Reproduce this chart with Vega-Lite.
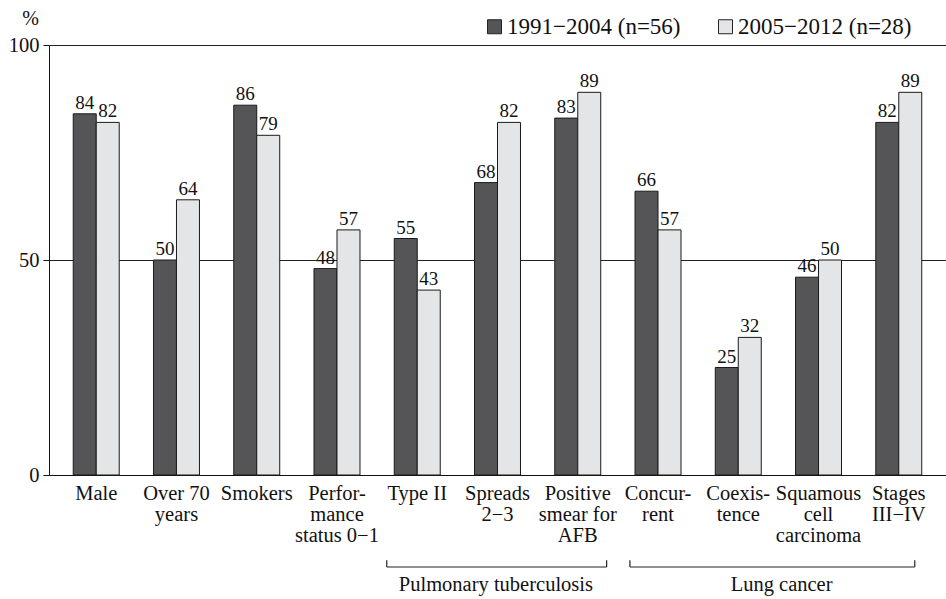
{
  "$schema": "https://vega.github.io/schema/vega-lite/v6.json",
  "width": 897,
  "height": 430,
  "autosize": {"type": "none"},
  "padding": {"left": 49, "top": 45, "right": 0, "bottom": 124},
  "background": "white",
  "config": {
    "view": {"stroke": null},
    "font": "Liberation Serif",
    "text": {"font": "Liberation Serif", "color": "#111"}
  },
  "datasets": {
    "bars": [
      {"category": "Male", "period": "1991−2004 (n=56)", "value": 84},
      {"category": "Male", "period": "2005−2012 (n=28)", "value": 82},
      {"category": "Over 70\nyears", "period": "1991−2004 (n=56)", "value": 50},
      {"category": "Over 70\nyears", "period": "2005−2012 (n=28)", "value": 64},
      {"category": "Smokers", "period": "1991−2004 (n=56)", "value": 86},
      {"category": "Smokers", "period": "2005−2012 (n=28)", "value": 79},
      {"category": "Perfor-\nmance\nstatus 0−1", "period": "1991−2004 (n=56)", "value": 48},
      {"category": "Perfor-\nmance\nstatus 0−1", "period": "2005−2012 (n=28)", "value": 57},
      {"category": "Type II", "period": "1991−2004 (n=56)", "value": 55},
      {"category": "Type II", "period": "2005−2012 (n=28)", "value": 43},
      {"category": "Spreads\n2−3", "period": "1991−2004 (n=56)", "value": 68},
      {"category": "Spreads\n2−3", "period": "2005−2012 (n=28)", "value": 82},
      {"category": "Positive\nsmear for\nAFB", "period": "1991−2004 (n=56)", "value": 83},
      {"category": "Positive\nsmear for\nAFB", "period": "2005−2012 (n=28)", "value": 89},
      {"category": "Concur-\nrent", "period": "1991−2004 (n=56)", "value": 66},
      {"category": "Concur-\nrent", "period": "2005−2012 (n=28)", "value": 57},
      {"category": "Coexis-\ntence", "period": "1991−2004 (n=56)", "value": 25},
      {"category": "Coexis-\ntence", "period": "2005−2012 (n=28)", "value": 32},
      {"category": "Squamous\ncell\ncarcinoma", "period": "1991−2004 (n=56)", "value": 46},
      {"category": "Squamous\ncell\ncarcinoma", "period": "2005−2012 (n=28)", "value": 50},
      {"category": "Stages\nIII−IV", "period": "1991−2004 (n=56)", "value": 82},
      {"category": "Stages\nIII−IV", "period": "2005−2012 (n=28)", "value": 89}
    ],
    "brackets": [
      {"bx": 3.62, "bx2": 6.36, "by": -21.4, "by2": -21.4},
      {"bx": 3.62, "bx2": 3.62, "by": -21.4, "by2": -19.8},
      {"bx": 6.36, "bx2": 6.36, "by": -21.4, "by2": -19.8},
      {"bx": 6.65, "bx2": 10.2, "by": -21.4, "by2": -21.4},
      {"bx": 6.65, "bx2": 6.65, "by": -21.4, "by2": -19.8},
      {"bx": 10.2, "bx2": 10.2, "by": -21.4, "by2": -19.8}
    ],
    "groups": [
      {"gx": 4.98, "gy": -25.6, "label": "Pulmonary tuberculosis"},
      {"gx": 8.54, "gy": -25.6, "label": "Lung cancer"}
    ]
  },
  "layer": [
    {
      "data": {"name": "bars"},
      "encoding": {
        "x": {
          "field": "category", "type": "nominal", "sort": null,
          "scale": {"paddingInner": 0.427, "paddingOuter": 0.302},
          "axis": {
            "title": null, "labelAngle": 0, "ticks": false,
            "domainColor": "#111", "labelColor": "#111",
            "labelFont": "Liberation Serif", "labelFontSize": 20.5,
            "labelExpr": "split(datum.label, '\\n')",
            "labelLineHeight": 21, "labelPadding": 8, "labelBaseline": "top",
            "labelOverlap": false, "labelBound": false, "labelLimit": 300
          }
        },
        "xOffset": {
          "field": "period", "type": "nominal", "sort": null,
          "scale": {"paddingInner": 0, "paddingOuter": 0}
        },
        "y": {
          "field": "value", "type": "quantitative",
          "scale": {"domain": [0, 100], "nice": false},
          "axis": {
            "values": [0, 50, 100], "grid": true, "gridColor": "#222", "gridWidth": 1, "gridOpacity": 1,
            "domainColor": "#111", "tickColor": "#111", "tickSize": 6,
            "labelFont": "Liberation Serif", "labelFontSize": 20.5, "labelColor": "#111", "labelPadding": 4,
            "title": "%", "titleAngle": 0, "titleX": -19, "titleY": -27,
            "titleAlign": "center", "titleBaseline": "middle",
            "titleFont": "Liberation Serif", "titleFontSize": 20, "titleFontWeight": "normal", "titleColor": "#111"
          }
        }
      },
      "layer": [
        {
          "mark": {"type": "bar", "stroke": "#1a1a1a", "strokeWidth": 1},
          "encoding": {
            "color": {
              "field": "period", "type": "nominal", "sort": null,
              "scale": {"range": ["#555557", "#e4e5e7"]},
              "legend": {
                "title": null, "orient": "none", "direction": "horizontal",
                "legendX": 434, "legendY": -30,
                "symbolType": "square", "symbolSize": 196,
                "symbolStrokeColor": "#222", "symbolStrokeWidth": 1,
                "labelFont": "Liberation Serif", "labelFontSize": 23, "labelColor": "#111",
                "labelOffset": 1, "columnPadding": 33, "labelLimit": 300
              }
            }
          }
        },
        {
          "mark": {"type": "text", "baseline": "bottom", "dy": -1, "fontSize": 19},
          "encoding": {"text": {"field": "value", "type": "quantitative"}}
        }
      ]
    },
    {
      "data": {"name": "brackets"},
      "mark": {"type": "rule", "color": "#222", "strokeWidth": 1.2},
      "encoding": {
        "x": {"field": "bx", "type": "quantitative", "scale": {"domain": [-0.589, 10.589], "nice": false, "zero": false}, "axis": null},
        "x2": {"field": "bx2"},
        "y": {"field": "by", "type": "quantitative", "scale": {"domain": [0, 100], "nice": false}, "axis": null},
        "y2": {"field": "by2"}
      }
    },
    {
      "data": {"name": "groups"},
      "mark": {"type": "text", "fontSize": 20.5, "baseline": "middle", "align": "center"},
      "encoding": {
        "x": {"field": "gx", "type": "quantitative", "scale": {"domain": [-0.589, 10.589], "nice": false, "zero": false}, "axis": null},
        "y": {"field": "gy", "type": "quantitative", "scale": {"domain": [0, 100], "nice": false}, "axis": null},
        "text": {"field": "label", "type": "nominal"}
      }
    }
  ],
  "resolve": {"scale": {"x": "independent", "y": "independent"}, "axis": {"x": "independent", "y": "independent"}}
}
